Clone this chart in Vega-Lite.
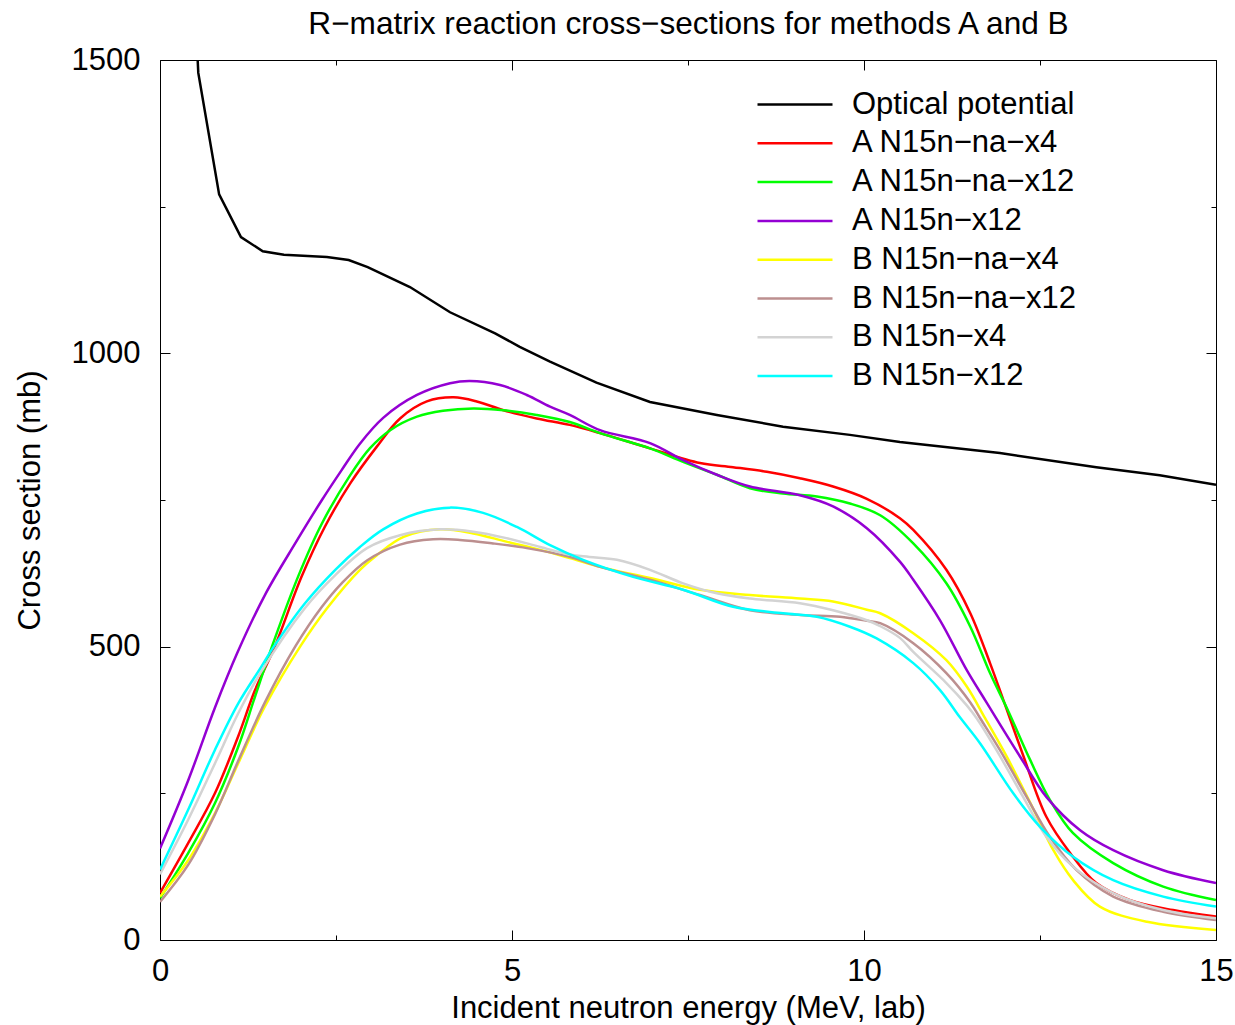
{
  "$schema": "https://vega.github.io/schema/vega-lite/v6.json",
  "width": 1056,
  "height": 880,
  "autosize": "none",
  "padding": {"left": 160, "top": 60, "right": 19, "bottom": 85},
  "background": "white",
  "config": {
    "font": "Liberation Sans",
    "view": {"stroke": "#000000", "strokeWidth": 1}
  },
  "data": {
    "values": [
      {"s": "Optical potential", "e": 0.535, "v": 1500},
      {"s": "Optical potential", "e": 0.544, "v": 1478},
      {"s": "Optical potential", "e": 0.84, "v": 1271},
      {"s": "Optical potential", "e": 1.15, "v": 1198},
      {"s": "Optical potential", "e": 1.46, "v": 1174},
      {"s": "Optical potential", "e": 1.76, "v": 1168},
      {"s": "Optical potential", "e": 2.37, "v": 1164},
      {"s": "Optical potential", "e": 2.68, "v": 1159},
      {"s": "Optical potential", "e": 2.95, "v": 1147},
      {"s": "Optical potential", "e": 3.55, "v": 1113},
      {"s": "Optical potential", "e": 4.12, "v": 1070},
      {"s": "Optical potential", "e": 4.76, "v": 1034},
      {"s": "Optical potential", "e": 5.11, "v": 1011},
      {"s": "Optical potential", "e": 5.54, "v": 986},
      {"s": "Optical potential", "e": 6.2, "v": 950},
      {"s": "Optical potential", "e": 6.96, "v": 917},
      {"s": "Optical potential", "e": 7.91, "v": 895},
      {"s": "Optical potential", "e": 8.85, "v": 875},
      {"s": "Optical potential", "e": 9.8, "v": 861},
      {"s": "Optical potential", "e": 10.51, "v": 849},
      {"s": "Optical potential", "e": 11.93, "v": 830},
      {"s": "Optical potential", "e": 13.3, "v": 806},
      {"s": "Optical potential", "e": 14.2, "v": 792},
      {"s": "Optical potential", "e": 15.0, "v": 776},

      {"s": "A N15n−na−x4", "e": 0, "v": 80},
      {"s": "A N15n−na−x4", "e": 0.40, "v": 165},
      {"s": "A N15n−na−x4", "e": 0.78, "v": 250},
      {"s": "A N15n−na−x4", "e": 1.11, "v": 347},
      {"s": "A N15n−na−x4", "e": 1.35, "v": 426},
      {"s": "A N15n−na−x4", "e": 1.63, "v": 500},
      {"s": "A N15n−na−x4", "e": 2.01, "v": 619},
      {"s": "A N15n−na−x4", "e": 2.34, "v": 704},
      {"s": "A N15n−na−x4", "e": 2.70, "v": 778},
      {"s": "A N15n−na−x4", "e": 3.08, "v": 841},
      {"s": "A N15n−na−x4", "e": 3.41, "v": 889},
      {"s": "A N15n−na−x4", "e": 3.79, "v": 918},
      {"s": "A N15n−na−x4", "e": 4.17, "v": 925},
      {"s": "A N15n−na−x4", "e": 4.50, "v": 918},
      {"s": "A N15n−na−x4", "e": 4.88, "v": 903},
      {"s": "A N15n−na−x4", "e": 5.35, "v": 889},
      {"s": "A N15n−na−x4", "e": 5.82, "v": 878},
      {"s": "A N15n−na−x4", "e": 6.25, "v": 864},
      {"s": "A N15n−na−x4", "e": 6.96, "v": 838},
      {"s": "A N15n−na−x4", "e": 7.67, "v": 813},
      {"s": "A N15n−na−x4", "e": 8.14, "v": 806},
      {"s": "A N15n−na−x4", "e": 8.62, "v": 798},
      {"s": "A N15n−na−x4", "e": 9.09, "v": 787},
      {"s": "A N15n−na−x4", "e": 9.56, "v": 773},
      {"s": "A N15n−na−x4", "e": 10.04, "v": 752},
      {"s": "A N15n−na−x4", "e": 10.51, "v": 719},
      {"s": "A N15n−na−x4", "e": 10.70, "v": 699},
      {"s": "A N15n−na−x4", "e": 11.17, "v": 631},
      {"s": "A N15n−na−x4", "e": 11.51, "v": 557},
      {"s": "A N15n−na−x4", "e": 11.79, "v": 472},
      {"s": "A N15n−na−x4", "e": 11.98, "v": 409},
      {"s": "A N15n−na−x4", "e": 12.26, "v": 315},
      {"s": "A N15n−na−x4", "e": 12.59, "v": 210},
      {"s": "A N15n−na−x4", "e": 12.93, "v": 148},
      {"s": "A N15n−na−x4", "e": 13.30, "v": 97},
      {"s": "A N15n−na−x4", "e": 13.78, "v": 68},
      {"s": "A N15n−na−x4", "e": 14.39, "v": 51},
      {"s": "A N15n−na−x4", "e": 15.0, "v": 40},

      {"s": "A N15n−na−x12", "e": 0, "v": 71},
      {"s": "A N15n−na−x12", "e": 0.40, "v": 148},
      {"s": "A N15n−na−x12", "e": 0.78, "v": 233},
      {"s": "A N15n−na−x12", "e": 1.11, "v": 329},
      {"s": "A N15n−na−x12", "e": 1.35, "v": 415},
      {"s": "A N15n−na−x12", "e": 1.59, "v": 500},
      {"s": "A N15n−na−x12", "e": 1.96, "v": 619},
      {"s": "A N15n−na−x12", "e": 2.30, "v": 710},
      {"s": "A N15n−na−x12", "e": 2.70, "v": 792},
      {"s": "A N15n−na−x12", "e": 2.98, "v": 838},
      {"s": "A N15n−na−x12", "e": 3.27, "v": 869},
      {"s": "A N15n−na−x12", "e": 3.65, "v": 892},
      {"s": "A N15n−na−x12", "e": 4.02, "v": 902},
      {"s": "A N15n−na−x12", "e": 4.45, "v": 906},
      {"s": "A N15n−na−x12", "e": 4.88, "v": 903},
      {"s": "A N15n−na−x12", "e": 5.35, "v": 895},
      {"s": "A N15n−na−x12", "e": 5.82, "v": 883},
      {"s": "A N15n−na−x12", "e": 6.25, "v": 864},
      {"s": "A N15n−na−x12", "e": 6.96, "v": 838},
      {"s": "A N15n−na−x12", "e": 7.43, "v": 815},
      {"s": "A N15n−na−x12", "e": 7.91, "v": 793},
      {"s": "A N15n−na−x12", "e": 8.38, "v": 770},
      {"s": "A N15n−na−x12", "e": 8.85, "v": 761},
      {"s": "A N15n−na−x12", "e": 9.33, "v": 756},
      {"s": "A N15n−na−x12", "e": 9.80, "v": 744},
      {"s": "A N15n−na−x12", "e": 10.23, "v": 724},
      {"s": "A N15n−na−x12", "e": 10.70, "v": 676},
      {"s": "A N15n−na−x12", "e": 11.17, "v": 608},
      {"s": "A N15n−na−x12", "e": 11.51, "v": 534},
      {"s": "A N15n−na−x12", "e": 11.79, "v": 455},
      {"s": "A N15n−na−x12", "e": 12.05, "v": 390},
      {"s": "A N15n−na−x12", "e": 12.36, "v": 307},
      {"s": "A N15n−na−x12", "e": 12.64, "v": 239},
      {"s": "A N15n−na−x12", "e": 12.97, "v": 182},
      {"s": "A N15n−na−x12", "e": 13.54, "v": 131},
      {"s": "A N15n−na−x12", "e": 14.25, "v": 91},
      {"s": "A N15n−na−x12", "e": 15.0, "v": 68},

      {"s": "A N15n−x12", "e": 0, "v": 156},
      {"s": "A N15n−x12", "e": 0.40, "v": 272},
      {"s": "A N15n−x12", "e": 0.78, "v": 396},
      {"s": "A N15n−x12", "e": 1.10, "v": 490},
      {"s": "A N15n−x12", "e": 1.49, "v": 588},
      {"s": "A N15n−x12", "e": 1.92, "v": 676},
      {"s": "A N15n−x12", "e": 2.30, "v": 750},
      {"s": "A N15n−x12", "e": 2.58, "v": 801},
      {"s": "A N15n−x12", "e": 2.84, "v": 846},
      {"s": "A N15n−x12", "e": 3.17, "v": 890},
      {"s": "A N15n−x12", "e": 3.65, "v": 929},
      {"s": "A N15n−x12", "e": 4.12, "v": 949},
      {"s": "A N15n−x12", "e": 4.40, "v": 953},
      {"s": "A N15n−x12", "e": 4.83, "v": 946},
      {"s": "A N15n−x12", "e": 5.21, "v": 929},
      {"s": "A N15n−x12", "e": 5.54, "v": 909},
      {"s": "A N15n−x12", "e": 5.82, "v": 895},
      {"s": "A N15n−x12", "e": 6.25, "v": 869},
      {"s": "A N15n−x12", "e": 6.96, "v": 847},
      {"s": "A N15n−x12", "e": 7.43, "v": 818},
      {"s": "A N15n−x12", "e": 7.91, "v": 793},
      {"s": "A N15n−x12", "e": 8.38, "v": 773},
      {"s": "A N15n−x12", "e": 9.09, "v": 758},
      {"s": "A N15n−x12", "e": 9.56, "v": 739},
      {"s": "A N15n−x12", "e": 10.04, "v": 702},
      {"s": "A N15n−x12", "e": 10.51, "v": 645},
      {"s": "A N15n−x12", "e": 10.70, "v": 614},
      {"s": "A N15n−x12", "e": 11.08, "v": 545},
      {"s": "A N15n−x12", "e": 11.46, "v": 460},
      {"s": "A N15n−x12", "e": 11.74, "v": 405},
      {"s": "A N15n−x12", "e": 12.22, "v": 312},
      {"s": "A N15n−x12", "e": 12.59, "v": 244},
      {"s": "A N15n−x12", "e": 13.07, "v": 187},
      {"s": "A N15n−x12", "e": 13.54, "v": 153},
      {"s": "A N15n−x12", "e": 14.25, "v": 119},
      {"s": "A N15n−x12", "e": 15.0, "v": 97},

      {"s": "B N15n−na−x4", "e": 0, "v": 74},
      {"s": "B N15n−na−x4", "e": 0.40, "v": 136},
      {"s": "B N15n−na−x4", "e": 0.78, "v": 216},
      {"s": "B N15n−na−x4", "e": 1.11, "v": 301},
      {"s": "B N15n−na−x4", "e": 1.49, "v": 398},
      {"s": "B N15n−na−x4", "e": 1.99, "v": 500},
      {"s": "B N15n−na−x4", "e": 2.37, "v": 565},
      {"s": "B N15n−na−x4", "e": 2.84, "v": 631},
      {"s": "B N15n−na−x4", "e": 3.08, "v": 656},
      {"s": "B N15n−na−x4", "e": 3.46, "v": 687},
      {"s": "B N15n−na−x4", "e": 3.98, "v": 700},
      {"s": "B N15n−na−x4", "e": 4.45, "v": 693},
      {"s": "B N15n−na−x4", "e": 4.92, "v": 679},
      {"s": "B N15n−na−x4", "e": 5.40, "v": 665},
      {"s": "B N15n−na−x4", "e": 5.82, "v": 651},
      {"s": "B N15n−na−x4", "e": 6.25, "v": 636},
      {"s": "B N15n−na−x4", "e": 6.96, "v": 617},
      {"s": "B N15n−na−x4", "e": 7.67, "v": 597},
      {"s": "B N15n−na−x4", "e": 8.38, "v": 588},
      {"s": "B N15n−na−x4", "e": 9.09, "v": 582},
      {"s": "B N15n−na−x4", "e": 9.56, "v": 577},
      {"s": "B N15n−na−x4", "e": 10.04, "v": 563},
      {"s": "B N15n−na−x4", "e": 10.23, "v": 557},
      {"s": "B N15n−na−x4", "e": 10.70, "v": 523},
      {"s": "B N15n−na−x4", "e": 11.17, "v": 477},
      {"s": "B N15n−na−x4", "e": 11.46, "v": 432},
      {"s": "B N15n−na−x4", "e": 11.72, "v": 378},
      {"s": "B N15n−na−x4", "e": 12.03, "v": 312},
      {"s": "B N15n−na−x4", "e": 12.41, "v": 222},
      {"s": "B N15n−na−x4", "e": 12.69, "v": 153},
      {"s": "B N15n−na−x4", "e": 12.97, "v": 102},
      {"s": "B N15n−na−x4", "e": 13.35, "v": 57},
      {"s": "B N15n−na−x4", "e": 14.02, "v": 31},
      {"s": "B N15n−na−x4", "e": 15.0, "v": 17},

      {"s": "B N15n−na−x12", "e": 0, "v": 65},
      {"s": "B N15n−na−x12", "e": 0.40, "v": 128},
      {"s": "B N15n−na−x12", "e": 0.78, "v": 214},
      {"s": "B N15n−na−x12", "e": 1.11, "v": 305},
      {"s": "B N15n−na−x12", "e": 1.49, "v": 405},
      {"s": "B N15n−na−x12", "e": 1.92, "v": 500},
      {"s": "B N15n−na−x12", "e": 2.30, "v": 568},
      {"s": "B N15n−na−x12", "e": 2.58, "v": 608},
      {"s": "B N15n−na−x12", "e": 2.94, "v": 647},
      {"s": "B N15n−na−x12", "e": 3.41, "v": 674},
      {"s": "B N15n−na−x12", "e": 3.88, "v": 683},
      {"s": "B N15n−na−x12", "e": 4.26, "v": 682},
      {"s": "B N15n−na−x12", "e": 4.73, "v": 676},
      {"s": "B N15n−na−x12", "e": 5.21, "v": 668},
      {"s": "B N15n−na−x12", "e": 5.82, "v": 653},
      {"s": "B N15n−na−x12", "e": 6.25, "v": 636},
      {"s": "B N15n−na−x12", "e": 6.96, "v": 614},
      {"s": "B N15n−na−x12", "e": 7.67, "v": 588},
      {"s": "B N15n−na−x12", "e": 8.38, "v": 562},
      {"s": "B N15n−na−x12", "e": 9.09, "v": 554},
      {"s": "B N15n−na−x12", "e": 9.66, "v": 551},
      {"s": "B N15n−na−x12", "e": 10.04, "v": 544},
      {"s": "B N15n−na−x12", "e": 10.23, "v": 540},
      {"s": "B N15n−na−x12", "e": 10.70, "v": 506},
      {"s": "B N15n−na−x12", "e": 11.17, "v": 455},
      {"s": "B N15n−na−x12", "e": 11.51, "v": 405},
      {"s": "B N15n−na−x12", "e": 11.65, "v": 378},
      {"s": "B N15n−na−x12", "e": 11.93, "v": 324},
      {"s": "B N15n−na−x12", "e": 12.31, "v": 244},
      {"s": "B N15n−na−x12", "e": 12.64, "v": 176},
      {"s": "B N15n−na−x12", "e": 13.02, "v": 119},
      {"s": "B N15n−na−x12", "e": 13.54, "v": 74},
      {"s": "B N15n−na−x12", "e": 14.25, "v": 48},
      {"s": "B N15n−na−x12", "e": 15.0, "v": 34},

      {"s": "B N15n−x4", "e": 0, "v": 112},
      {"s": "B N15n−x4", "e": 0.40, "v": 205},
      {"s": "B N15n−x4", "e": 0.78, "v": 301},
      {"s": "B N15n−x4", "e": 1.11, "v": 386},
      {"s": "B N15n−x4", "e": 1.44, "v": 458},
      {"s": "B N15n−x4", "e": 2.06, "v": 566},
      {"s": "B N15n−x4", "e": 2.49, "v": 622},
      {"s": "B N15n−x4", "e": 2.94, "v": 668},
      {"s": "B N15n−x4", "e": 3.41, "v": 690},
      {"s": "B N15n−x4", "e": 3.98, "v": 700},
      {"s": "B N15n−x4", "e": 4.45, "v": 696},
      {"s": "B N15n−x4", "e": 4.92, "v": 685},
      {"s": "B N15n−x4", "e": 5.40, "v": 670},
      {"s": "B N15n−x4", "e": 5.82, "v": 657},
      {"s": "B N15n−x4", "e": 6.10, "v": 653},
      {"s": "B N15n−x4", "e": 6.49, "v": 648},
      {"s": "B N15n−x4", "e": 6.96, "v": 631},
      {"s": "B N15n−x4", "e": 7.43, "v": 608},
      {"s": "B N15n−x4", "e": 7.91, "v": 591},
      {"s": "B N15n−x4", "e": 8.38, "v": 582},
      {"s": "B N15n−x4", "e": 9.09, "v": 574},
      {"s": "B N15n−x4", "e": 9.56, "v": 562},
      {"s": "B N15n−x4", "e": 10.04, "v": 545},
      {"s": "B N15n−x4", "e": 10.23, "v": 535},
      {"s": "B N15n−x4", "e": 10.51, "v": 515},
      {"s": "B N15n−x4", "e": 10.70, "v": 491},
      {"s": "B N15n−x4", "e": 11.17, "v": 438},
      {"s": "B N15n−x4", "e": 11.46, "v": 400},
      {"s": "B N15n−x4", "e": 11.60, "v": 378},
      {"s": "B N15n−x4", "e": 11.88, "v": 324},
      {"s": "B N15n−x4", "e": 12.26, "v": 244},
      {"s": "B N15n−x4", "e": 12.59, "v": 176},
      {"s": "B N15n−x4", "e": 12.97, "v": 125},
      {"s": "B N15n−x4", "e": 13.54, "v": 80},
      {"s": "B N15n−x4", "e": 14.25, "v": 51},
      {"s": "B N15n−x4", "e": 15.0, "v": 37},

      {"s": "B N15n−x12", "e": 0, "v": 120},
      {"s": "B N15n−x12", "e": 0.40, "v": 222},
      {"s": "B N15n−x12", "e": 0.78, "v": 324},
      {"s": "B N15n−x12", "e": 1.11, "v": 403},
      {"s": "B N15n−x12", "e": 1.44, "v": 466},
      {"s": "B N15n−x12", "e": 1.60, "v": 497},
      {"s": "B N15n−x12", "e": 2.06, "v": 574},
      {"s": "B N15n−x12", "e": 2.49, "v": 631},
      {"s": "B N15n−x12", "e": 2.84, "v": 670},
      {"s": "B N15n−x12", "e": 3.17, "v": 700},
      {"s": "B N15n−x12", "e": 3.65, "v": 727},
      {"s": "B N15n−x12", "e": 4.12, "v": 737},
      {"s": "B N15n−x12", "e": 4.59, "v": 728},
      {"s": "B N15n−x12", "e": 5.07, "v": 704},
      {"s": "B N15n−x12", "e": 5.54, "v": 673},
      {"s": "B N15n−x12", "e": 6.01, "v": 648},
      {"s": "B N15n−x12", "e": 6.72, "v": 619},
      {"s": "B N15n−x12", "e": 7.43, "v": 597},
      {"s": "B N15n−x12", "e": 8.14, "v": 568},
      {"s": "B N15n−x12", "e": 8.85, "v": 557},
      {"s": "B N15n−x12", "e": 9.33, "v": 551},
      {"s": "B N15n−x12", "e": 9.80, "v": 534},
      {"s": "B N15n−x12", "e": 10.18, "v": 514},
      {"s": "B N15n−x12", "e": 10.70, "v": 472},
      {"s": "B N15n−x12", "e": 11.08, "v": 426},
      {"s": "B N15n−x12", "e": 11.36, "v": 380},
      {"s": "B N15n−x12", "e": 11.65, "v": 335},
      {"s": "B N15n−x12", "e": 12.12, "v": 250},
      {"s": "B N15n−x12", "e": 12.50, "v": 193},
      {"s": "B N15n−x12", "e": 12.97, "v": 142},
      {"s": "B N15n−x12", "e": 13.54, "v": 102},
      {"s": "B N15n−x12", "e": 14.25, "v": 74},
      {"s": "B N15n−x12", "e": 15.0, "v": 57}
    ]
  },
  "resolve": {"axis": {"x": "independent", "y": "independent"}},
  "layer": [
    {
      "transform": [{"filter": "datum.s === 'Optical potential'"}],
      "mark": {"type": "line", "strokeWidth": 2.5, "clip": true},
      "encoding": {
        "x": {"field": "e", "type": "quantitative", "scale": {"domain": [0, 15], "nice": false, "zero": false},
          "axis": {"orient": "bottom", "values": [0, 5, 10, 15], "ticks": false, "domain": false, "grid": false,
            "labelFontSize": 31, "labelColor": "#000000", "labelPadding": 16, "labelFlush": false, "format": "d",
            "title": "Incident neutron energy (MeV, lab)", "titleFontSize": 31, "titleFontWeight": "normal",
            "titleColor": "#000000", "titleBaseline": "alphabetic", "titleY": 77}},
        "y": {"field": "v", "type": "quantitative", "scale": {"domain": [0, 1500], "nice": false},
          "axis": {"orient": "left", "values": [0, 500, 1000, 1500], "ticks": false, "domain": false, "grid": false,
            "labelFontSize": 31, "labelColor": "#000000", "labelPadding": 20, "labelFlush": false, "format": "d",
            "title": "Cross section (mb)", "titleFontSize": 31, "titleFontWeight": "normal",
            "titleColor": "#000000", "titleBaseline": "alphabetic", "titleX": -121}},
        "color": {"field": "s", "type": "nominal",
          "scale": {"domain": ["Optical potential", "A N15n−na−x4", "A N15n−na−x12", "A N15n−x12", "B N15n−na−x4", "B N15n−na−x12", "B N15n−x4", "B N15n−x12"],
            "range": ["#000000", "#ff0000", "#00ff00", "#9400d3", "#ffff00", "#bc8f8f", "#d3d3d3", "#00ffff"]},
          "legend": {"title": null, "orient": "none", "legendX": 596, "legendY": 29, "padding": 0,
            "symbolType": "stroke", "symbolSize": 5625, "symbolStrokeWidth": 2.5, "clipHeight": 31, "rowPadding": 6.8,
            "labelFontSize": 31, "labelColor": "#000000", "labelOffset": 18, "labelLimit": 400}}
      }
    },
    {
      "transform": [{"filter": "datum.s !== 'Optical potential'"}],
      "mark": {"type": "line", "strokeWidth": 2.5, "interpolate": "catmull-rom", "clip": true},
      "encoding": {
        "x": {"field": "e", "type": "quantitative", "scale": {"domain": [0, 15], "nice": false, "zero": false}, "axis": null},
        "y": {"field": "v", "type": "quantitative", "scale": {"domain": [0, 1500], "nice": false}, "axis": null},
        "color": {"field": "s", "type": "nominal",
          "scale": {"domain": ["Optical potential", "A N15n−na−x4", "A N15n−na−x12", "A N15n−x12", "B N15n−na−x4", "B N15n−na−x12", "B N15n−x4", "B N15n−x12"],
            "range": ["#000000", "#ff0000", "#00ff00", "#9400d3", "#ffff00", "#bc8f8f", "#d3d3d3", "#00ffff"]},
          "legend": {"title": null, "orient": "none", "legendX": 596, "legendY": 29, "padding": 0,
            "symbolType": "stroke", "symbolSize": 5625, "symbolStrokeWidth": 2.5, "clipHeight": 31, "rowPadding": 6.8,
            "labelFontSize": 31, "labelColor": "#000000", "labelOffset": 18, "labelLimit": 400}}
      }
    },
    {
      "mark": {"type": "point", "opacity": 0, "size": 0},
      "encoding": {
        "x": {"field": "e", "type": "quantitative", "scale": {"domain": [0, 15], "nice": false, "zero": false},
          "axis": {"orient": "bottom", "values": [0, 5, 10, 15], "labels": false, "domain": false, "grid": false, "title": null,
            "tickSize": -10, "tickColor": "#000000", "tickWidth": 1}},
        "y": {"field": "v", "type": "quantitative", "scale": {"domain": [0, 1500], "nice": false},
          "axis": {"orient": "left", "values": [0, 500, 1000, 1500], "labels": false, "domain": false, "grid": false, "title": null,
            "tickSize": -10, "tickColor": "#000000", "tickWidth": 1}}
      }
    },
    {
      "mark": {"type": "point", "opacity": 0, "size": 0},
      "encoding": {
        "x": {"field": "e", "type": "quantitative", "scale": {"domain": [0, 15], "nice": false, "zero": false},
          "axis": {"orient": "bottom", "values": [2.5, 7.5, 12.5], "labels": false, "domain": false, "grid": false, "title": null,
            "tickSize": -5, "tickColor": "#000000", "tickWidth": 1}},
        "y": {"field": "v", "type": "quantitative", "scale": {"domain": [0, 1500], "nice": false},
          "axis": {"orient": "left", "values": [250, 750, 1250], "labels": false, "domain": false, "grid": false, "title": null,
            "tickSize": -5, "tickColor": "#000000", "tickWidth": 1}}
      }
    },
    {
      "mark": {"type": "point", "opacity": 0, "size": 0},
      "encoding": {
        "x": {"field": "e", "type": "quantitative", "scale": {"domain": [0, 15], "nice": false, "zero": false},
          "axis": {"orient": "top", "values": [0, 5, 10, 15], "labels": false, "domain": false, "grid": false,
            "tickSize": -10, "tickColor": "#000000", "tickWidth": 1,
            "title": "R−matrix reaction cross−sections for methods A and B", "titleFontSize": 31.6, "titleFontWeight": "normal",
            "titleColor": "#000000", "titleBaseline": "alphabetic", "titleY": -27, "titleX": 528, "titleAlign": "center"}},
        "y": {"field": "v", "type": "quantitative", "scale": {"domain": [0, 1500], "nice": false},
          "axis": {"orient": "right", "values": [0, 500, 1000, 1500], "labels": false, "domain": false, "grid": false, "title": null,
            "tickSize": -10, "tickColor": "#000000", "tickWidth": 1}}
      }
    },
    {
      "mark": {"type": "point", "opacity": 0, "size": 0},
      "encoding": {
        "x": {"field": "e", "type": "quantitative", "scale": {"domain": [0, 15], "nice": false, "zero": false},
          "axis": {"orient": "top", "values": [2.5, 7.5, 12.5], "labels": false, "domain": false, "grid": false, "title": null,
            "tickSize": -5, "tickColor": "#000000", "tickWidth": 1}},
        "y": {"field": "v", "type": "quantitative", "scale": {"domain": [0, 1500], "nice": false},
          "axis": {"orient": "right", "values": [250, 750, 1250], "labels": false, "domain": false, "grid": false, "title": null,
            "tickSize": -5, "tickColor": "#000000", "tickWidth": 1}}
      }
    }
  ]
}
